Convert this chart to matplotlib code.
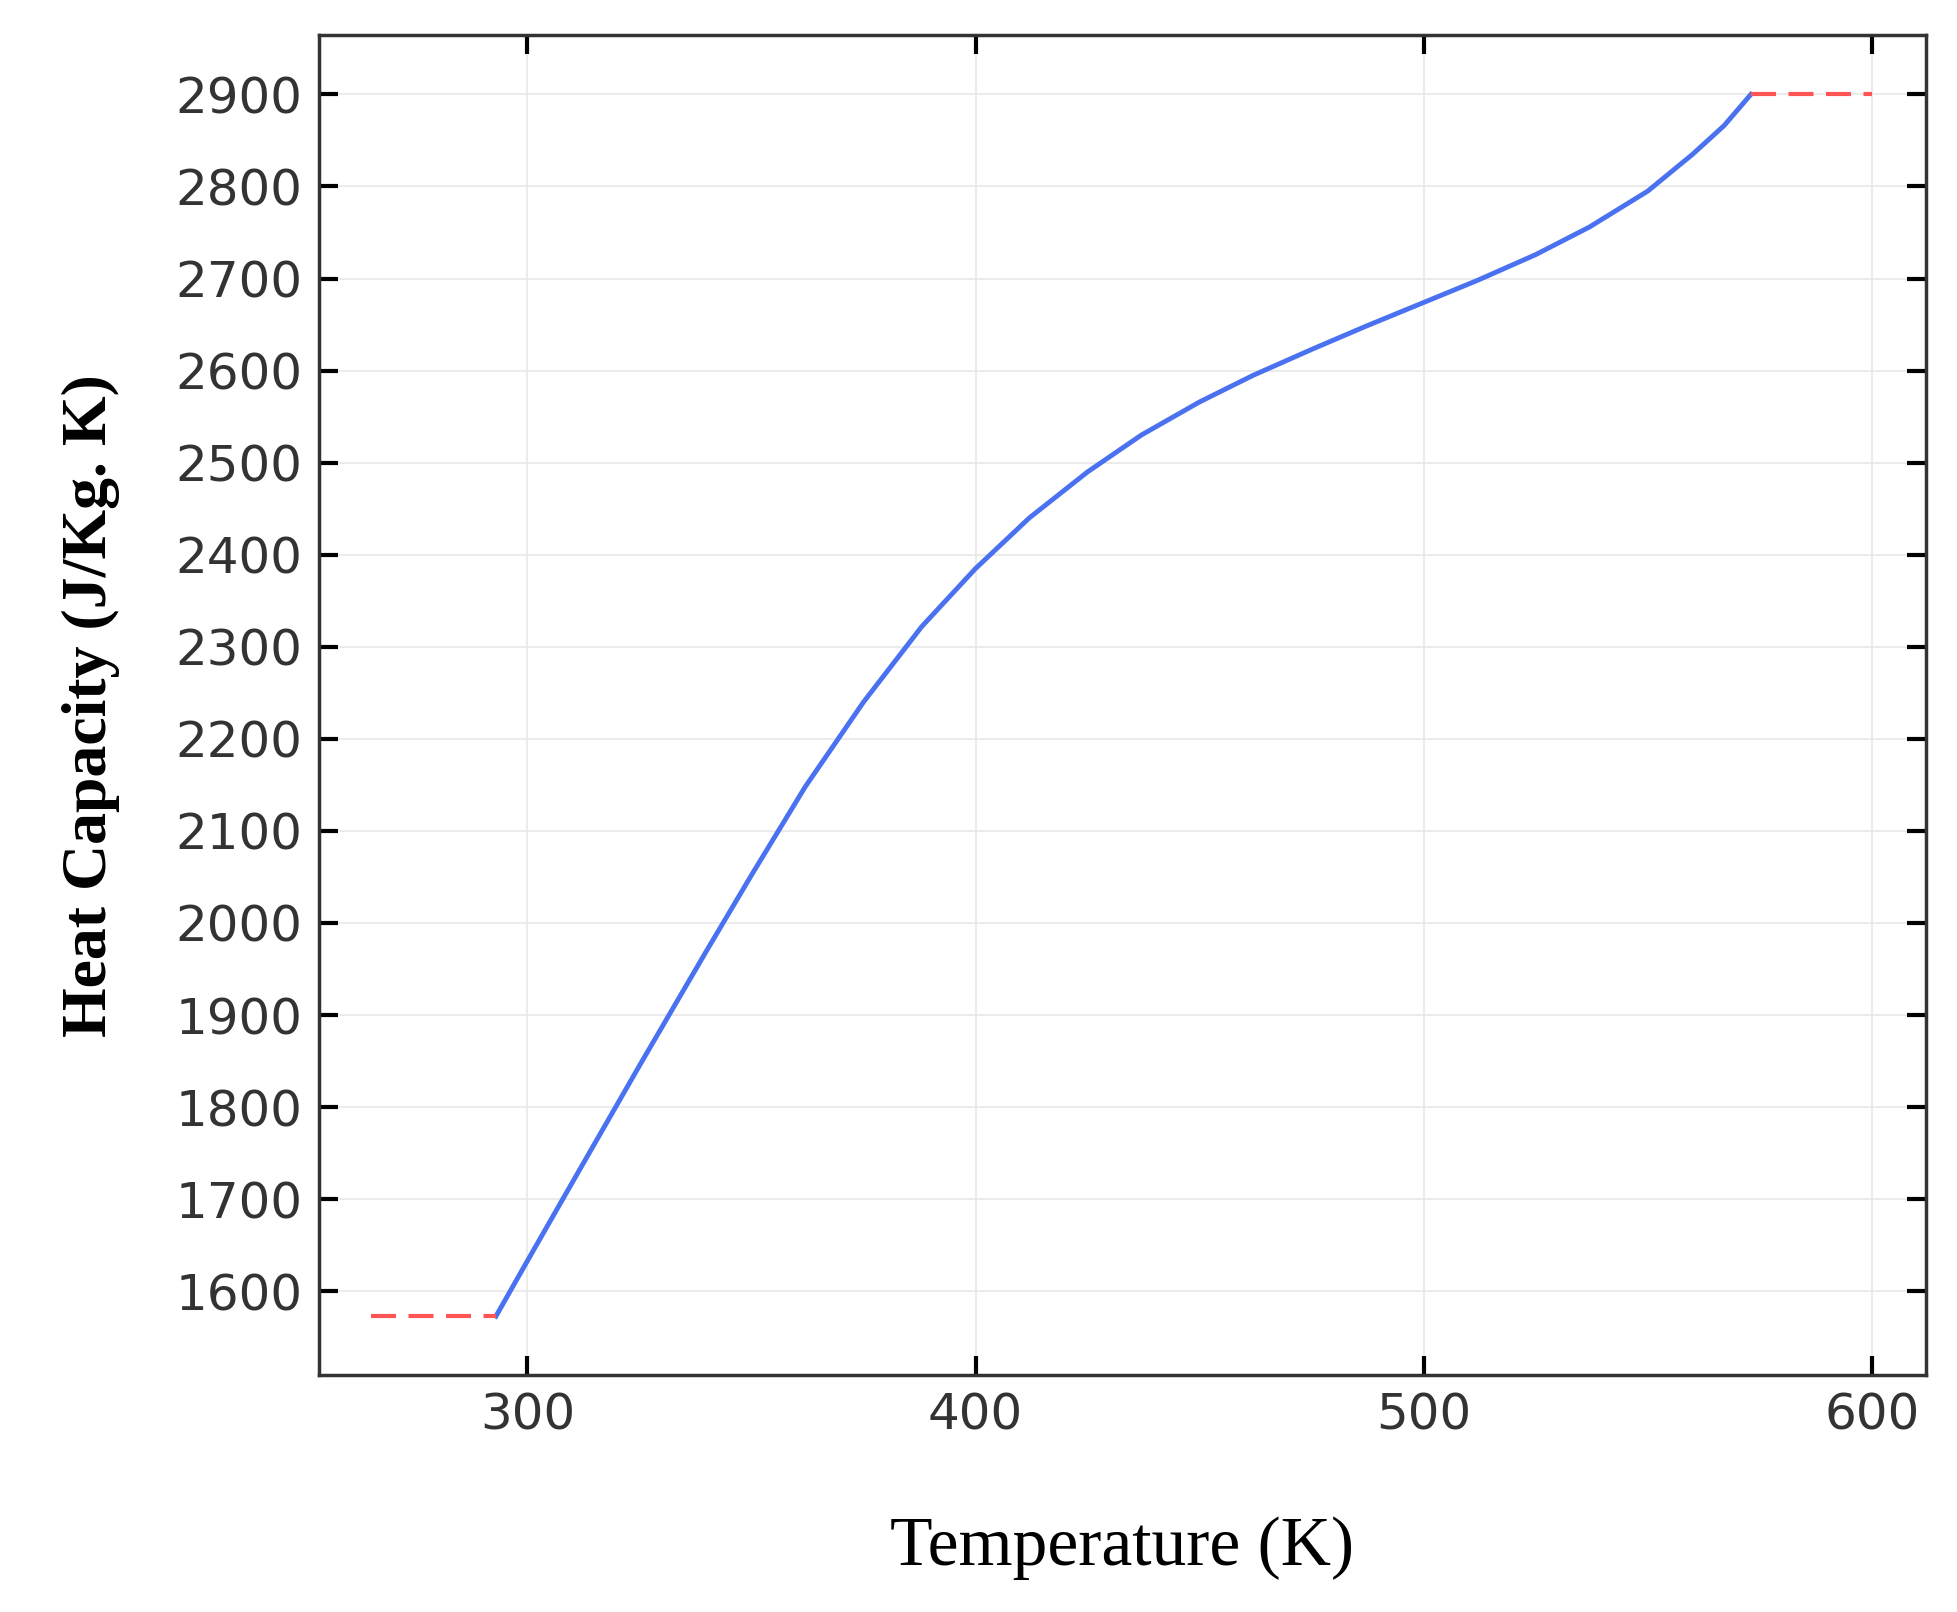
import matplotlib
matplotlib.use("Agg")
import matplotlib.pyplot as plt

temp = [293, 300, 310, 325, 340, 350, 362, 375, 388, 400, 412, 425, 437, 450, 462, 475, 487, 500, 512, 525, 537, 550, 560, 567, 573]
cp   = [1573, 1633, 1718, 1845, 1970, 2052, 2148, 2240, 2322, 2385, 2440, 2490, 2530, 2566, 2595, 2623, 2648, 2674, 2698, 2726, 2756, 2795, 2835, 2866, 2900]
low_t, low_cp = [265, 293], [1573, 1573]
high_t, high_cp = [573, 600], [2900, 2900]

fig = plt.figure(figsize=(19.57, 16.12), dpi=100)
ax = fig.add_axes([0.163, 0.147, 0.821, 0.831])
ax.plot(temp, cp, color="#4a72f0", lw=3.5, solid_joinstyle="round")
ax.plot(low_t, low_cp, color="#ff5555", lw=3, ls=(0, (6, 3)))
ax.plot(high_t, high_cp, color="#ff5555", lw=3, ls=(0, (6, 3)))
ax.set_xlim(253.5, 612)
ax.set_ylim(1509, 2964)
ax.set_xticks([300, 400, 500, 600])
ax.set_yticks(range(1600, 3000, 100))
ax.grid(True, color="#e8e8e8", lw=1.2)
ax.tick_params(direction="in", length=14, width=3, labelsize=36, top=True, right=True, pad=12)
for s in ax.spines.values():
    s.set_linewidth(2.5); s.set_color("#333333")
for lab in ax.get_xticklabels() + ax.get_yticklabels():
    lab.set_color("#333333")
ax.set_xlabel("Temperature (K)", family="Liberation Serif", fontsize=50, labelpad=55)
ax.set_ylabel("Heat Capacity (J/Kg. K)", family="Liberation Serif", fontsize=46, fontweight="bold", labelpad=40)
fig.savefig("out.png", dpi=100)
